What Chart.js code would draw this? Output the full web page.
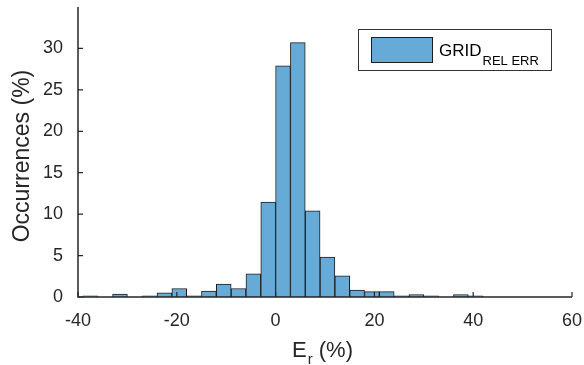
<!DOCTYPE html>
<html>
<head>
<meta charset="utf-8">
<script src="https://cdn.jsdelivr.net/npm/chart.js@4.4.1/dist/chart.umd.min.js"></script>
<style>
  body { margin: 0; background: #fff; }
  #wrap { width: 584px; height: 365px; position: relative; }
</style>
</head>
<body>
<div id="wrap"><canvas id="histChart"></canvas></div>
<script>
// histogram bins, width 3 (%), centres
const binCenters = [-37.5, -34.5, -31.5, -28.5, -25.5, -22.5, -19.5, -16.5, -13.5, -10.5, -7.5, -4.5, -1.5,
  1.5, 4.5, 7.5, 10.5, 13.5, 16.5, 19.5, 22.5, 25.5, 28.5, 31.5, 34.5, 37.5, 40.5];
const occurrences = [0.15, 0, 0.35, 0, 0.15, 0.5, 1.03, 0.15, 0.7, 1.55, 1.03, 2.8, 11.45,
  27.9, 30.7, 10.4, 4.83, 2.55, 0.85, 0.65, 0.65, 0.15, 0.3, 0.15, 0, 0.3, 0.15];
const xTicks = [-40, -20, 0, 20, 40, 60];
const yTicks = [0, 5, 10, 15, 20, 25, 30];

const barFill = '#66aad8';
const barEdge = '#1e1e1e';
const ink = '#262626';
const fontFam = '"Liberation Sans", Arial, Helvetica, sans-serif';

// axes drawn MATLAB style: lines over bars, ticks pointing inward
const axesPlugin = {
  id: 'matlabAxes',
  afterDatasetsDraw(chart) {
    const { ctx, chartArea: a, scales: { x, y } } = chart;
    ctx.save();
    ctx.strokeStyle = ink;
    ctx.lineWidth = 1.5;
    ctx.beginPath();
    ctx.moveTo(a.left, a.top);
    ctx.lineTo(a.left, a.bottom);
    ctx.lineTo(a.right, a.bottom);
    ctx.stroke();
    ctx.lineWidth = 1.2;
    ctx.beginPath();
    xTicks.forEach(v => {
      const px = x.getPixelForValue(v);
      ctx.moveTo(px, a.bottom);
      ctx.lineTo(px, a.bottom - 5);
    });
    yTicks.forEach(v => {
      const py = y.getPixelForValue(v);
      ctx.moveTo(a.left, py);
      ctx.lineTo(a.left + 5, py);
    });
    ctx.stroke();
    ctx.restore();
  },
  afterDraw(chart) {
    const { ctx } = chart;
    ctx.save();
    ctx.fillStyle = ink;
    ctx.textBaseline = 'alphabetic';

    // x title: E_r (%)
    ctx.textAlign = 'left';
    ctx.font = '22px ' + fontFam;
    let xx = 292;
    ctx.fillText('E', xx, 357);
    xx += ctx.measureText('E').width + 1;
    ctx.font = '15px ' + fontFam;
    ctx.fillText('r', xx, 364);
    xx += ctx.measureText('r').width;
    ctx.font = '22px ' + fontFam;
    ctx.fillText(' (%)', xx, 357);

    // y title
    ctx.save();
    ctx.translate(29, 156);
    ctx.rotate(-Math.PI / 2);
    ctx.textAlign = 'center';
    ctx.font = '23px ' + fontFam;
    ctx.fillText('Occurrences (%)', 0, 0);
    ctx.restore();

    // legend
    ctx.fillStyle = '#fff';
    ctx.fillRect(358.5, 29.5, 193, 41);
    ctx.strokeStyle = '#333';
    ctx.lineWidth = 1;
    ctx.strokeRect(358.5, 29.5, 193, 41);
    ctx.fillStyle = barFill;
    ctx.fillRect(371.5, 37.5, 61, 25);
    ctx.strokeStyle = barEdge;
    ctx.strokeRect(371.5, 37.5, 61, 25);
    ctx.fillStyle = '#000';
    ctx.textAlign = 'left';
    ctx.font = '17px ' + fontFam;
    ctx.fillText('GRID', 439, 56);
    const gw = ctx.measureText('GRID').width;
    ctx.font = '13px ' + fontFam;
    ctx.fillText('REL ERR', 439 + gw + 1, 65);
    ctx.restore();
  }
};

const data = binCenters.map((c, i) => ({ x: c, y: occurrences[i] }));

new Chart(document.getElementById('histChart'), {
  type: 'bar',
  data: {
    datasets: [{
      label: 'GRID REL ERR',
      data: data,
      backgroundColor: barFill,
      borderColor: barEdge,
      borderWidth: 1,
      borderSkipped: 'start',
      barPercentage: 1,
      categoryPercentage: 1
    }]
  },
  options: {
    responsive: true,
    maintainAspectRatio: false,
    animation: false,
    layout: { padding: { top: 7, right: 12, left: 0, bottom: 0 } },
    plugins: { legend: { display: false }, tooltip: { enabled: false } },
    scales: {
      x: {
        type: 'linear',
        offset: false,
        min: -40, max: 60,
        afterBuildTicks: s => { s.ticks = xTicks.map(v => ({ value: v })); },
        afterFit: s => { s.height = 68; s.paddingLeft = 0; s.paddingRight = 0; },
        grid: { display: false, drawTicks: false },
        border: { display: false },
        ticks: {
          color: ink,
          padding: 13,
          maxRotation: 0,
          font: { family: fontFam, size: 18 }
        }
      },
      y: {
        min: 0, max: 35,
        afterBuildTicks: s => { s.ticks = yTicks.map(v => ({ value: v })); },
        afterFit: s => { s.width = 78; s.paddingTop = 0; s.paddingBottom = 0; },
        grid: { display: false, drawTicks: false },
        border: { display: false },
        ticks: {
          color: ink,
          padding: 15,
          font: { family: fontFam, size: 18 }
        }
      }
    }
  },
  plugins: [axesPlugin]
});
</script>
</body>
</html>
